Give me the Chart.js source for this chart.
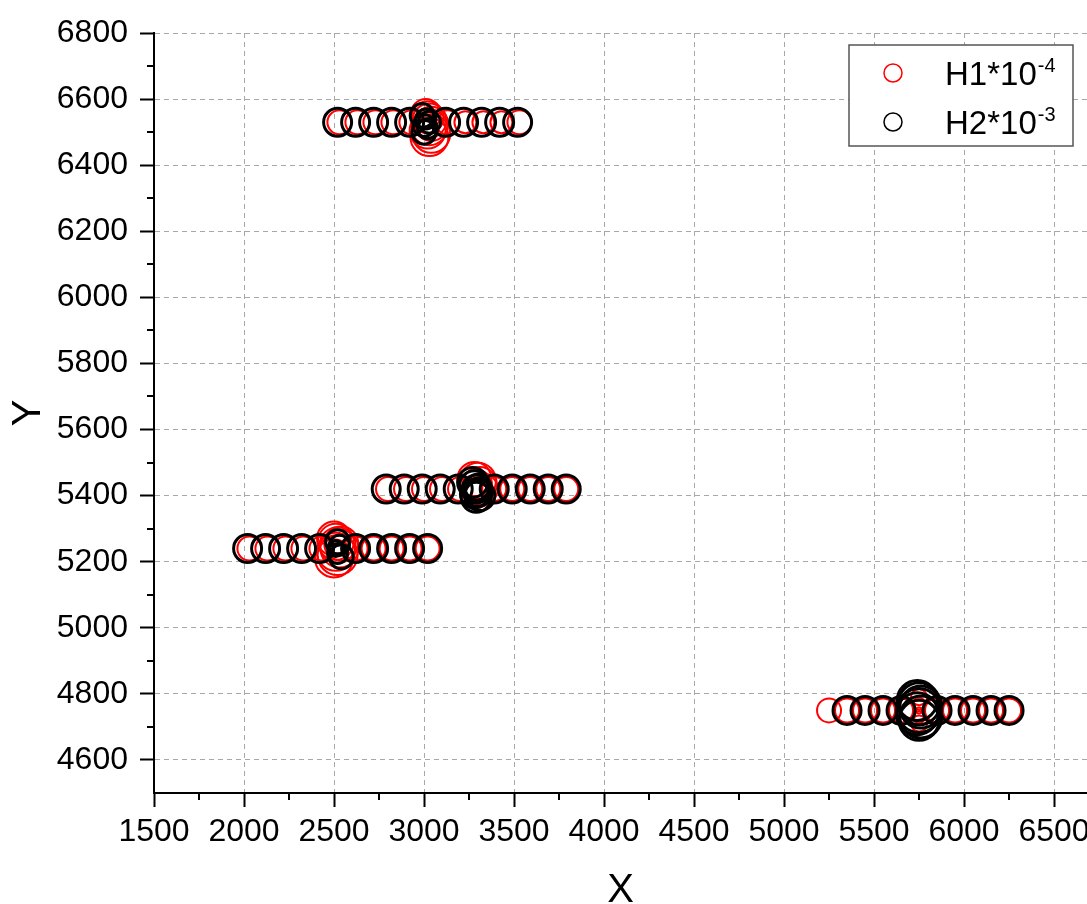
<!DOCTYPE html>
<html>
<head>
<meta charset="utf-8">
<script src="https://cdn.jsdelivr.net/npm/chart.js@4.4.0/dist/chart.umd.min.js"></script>
<style>
  html, body { margin: 0; padding: 0; background: #fff; overflow: hidden; }
  #wrap { width: 1087px; height: 904px; }
</style>
</head>
<body>
<div id="wrap"><canvas id="c" width="1087" height="904"></canvas></div>
<script>
/* H1*10^-4 (red) — x, y and magnitude (drawn as circle radius) */
const h1X = [
  2530, 2630, 2730, 2830, 2930, 3130, 3230, 3330, 3430, 3530,
  3010, 3020, 3030, 3040, 3030, 3020, 3040, 3030,
  2800, 2900, 3000, 3100, 3200, 3390, 3490, 3590, 3690, 3790,
  3280, 3300, 3310, 3290, 3320, 3300,
  2030, 2130, 2230, 2330, 2430, 2620, 2720, 2820, 2920, 3020,
  2500, 2510, 2520, 2530, 2510, 2520, 2500, 2540,
  5250, 5350, 5450, 5550, 5650, 5850, 5950, 6050, 6150, 6250,
  5750, 5750, 5750, 5750, 5750
];
const h1Y = [
  6530, 6530, 6530, 6530, 6530, 6530, 6530, 6530, 6530, 6530,
  6555, 6545, 6535, 6525, 6515, 6505, 6495, 6485,
  5420, 5420, 5420, 5420, 5420, 5420, 5420, 5420, 5420, 5420,
  5450, 5445, 5435, 5430, 5420, 5410,
  5240, 5240, 5240, 5240, 5240, 5240, 5240, 5240, 5240, 5240,
  5270, 5260, 5250, 5240, 5230, 5220, 5210, 5255,
  4750, 4750, 4750, 4750, 4750, 4750, 4750, 4750, 4750, 4750,
  4790, 4770, 4750, 4730, 4710
];
const h1Mag = [
  12, 12, 12, 12, 12, 12, 11, 11, 11, 12,
  15, 16, 17, 17, 18, 18, 19, 19,
  12, 12, 12, 12, 12, 12, 12, 12, 12, 12,
  17, 18, 17, 16, 16, 15,
  12, 12, 12, 12, 12, 12, 12, 12, 12, 12,
  17, 18, 18, 19, 19, 20, 19, 17,
  12, 12, 12, 12, 12, 12, 12, 12, 12, 12,
  8, 6, 3, 6, 8
];

/* H2*10^-3 (black) */
const h2X = [
  2520, 2620, 2720, 2820, 2920, 3120, 3220, 3320, 3420, 3520,
  2990, 3000, 3010, 3020, 3030, 3000,
  2790, 2890, 2990, 3090, 3190, 3390, 3490, 3590, 3690, 3790,
  3270, 3280, 3290, 3300, 3310, 3290, 3280, 3300,
  2020, 2120, 2220, 2320, 2420, 2620, 2720, 2820, 2920, 3020,
  2520, 2530, 2510, 2520, 2540,
  5350, 5450, 5550, 5650, 5850, 5950, 6050, 6150, 6250,
  5740, 5750, 5760, 5750, 5740, 5760, 5750
];
const h2Y = [
  6530, 6530, 6530, 6530, 6530, 6530, 6530, 6530, 6530, 6530,
  6550, 6520, 6540, 6510, 6530, 6500,
  5420, 5420, 5420, 5420, 5420, 5420, 5420, 5420, 5420, 5420,
  5440, 5430, 5420, 5410, 5400, 5395, 5405, 5425,
  5240, 5240, 5240, 5240, 5240, 5240, 5240, 5240, 5240, 5240,
  5260, 5250, 5240, 5225, 5215,
  4750, 4750, 4750, 4750, 4750, 4750, 4750, 4750, 4750,
  4780, 4770, 4760, 4750, 4740, 4730, 4720
];
const h2Mag = [
  14, 14, 14, 14, 14, 14, 14, 14, 14, 14,
  12, 11, 10, 10, 11, 12,
  14, 14, 14, 14, 14, 14, 14, 14, 14, 14,
  15, 15, 14, 14, 15, 15, 14, 13,
  14, 14, 14, 14, 14, 14, 14, 14, 14, 14,
  12, 10, 8, 10, 12,
  14, 14, 14, 14, 14, 14, 14, 14, 14,
  20, 21, 21, 22, 21, 21, 20
];

const xTicks = [1500, 2000, 2500, 3000, 3500, 4000, 4500, 5000, 5500, 6000, 6500];
const xMinor = [1750, 2250, 2750, 3250, 3750, 4250, 4750, 5250, 5750, 6250];
const yTicks = [4600, 4800, 5000, 5200, 5400, 5600, 5800, 6000, 6200, 6400, 6600, 6800];
const yMinor = [4700, 4900, 5100, 5300, 5500, 5700, 5900, 6100, 6300, 6500, 6700];

const seriesNames = ['H1*10', 'H2*10'];
const seriesExp = ['-4', '-3'];
const seriesColors = ['#ff0000', '#000000'];

const FONT = "'Liberation Sans', Arial, sans-serif";

function pts(xs, ys, ms) {
  return xs.map((x, i) => ({ x, y: ys[i], r: ms[i] }));
}

// short minor ticks on both axes
const minorTicks = {
  id: 'minorTicks',
  afterDraw(chart) {
    const { ctx, scales: { x, y }, chartArea } = chart;
    ctx.save();
    ctx.strokeStyle = '#000';
    ctx.lineWidth = 2;
    ctx.beginPath();
    xMinor.forEach(v => {
      const px = Math.round(x.getPixelForValue(v));
      if (px > chartArea.right) return;
      ctx.moveTo(px, chartArea.bottom);
      ctx.lineTo(px, chartArea.bottom + 7);
    });
    yMinor.forEach(v => {
      const py = Math.round(y.getPixelForValue(v));
      ctx.moveTo(chartArea.left, py);
      ctx.lineTo(chartArea.left - 7, py);
    });
    ctx.stroke();
    ctx.restore();
  }
};

// boxed legend with superscript exponents
const boxLegend = {
  id: 'boxLegend',
  afterDatasetsDraw(chart) {
    const ctx = chart.ctx;
    const bx = 849, by = 45, bw = 224, bh = 101;
    ctx.save();
    ctx.fillStyle = '#fff';
    ctx.fillRect(bx, by, bw, bh);
    ctx.strokeStyle = '#555';
    ctx.lineWidth = 1.5;
    ctx.strokeRect(bx, by, bw, bh);
    seriesNames.forEach((name, i) => {
      const cy = 73 + i * 49;
      ctx.beginPath();
      ctx.arc(893, cy, 9, 0, Math.PI * 2);
      ctx.strokeStyle = seriesColors[i];
      ctx.lineWidth = 1.5;
      ctx.stroke();
      ctx.fillStyle = '#000';
      ctx.textBaseline = 'alphabetic';
      ctx.textAlign = 'left';
      ctx.font = '33px ' + FONT;
      ctx.fillText(name, 945, cy + 12);
      const w = ctx.measureText(name).width;
      ctx.font = '20px ' + FONT;
      ctx.fillText(seriesExp[i], 945 + w + 1, cy - 1);
    });
    ctx.restore();
  }
};

const canvas = document.getElementById('c');
new Chart(canvas.getContext('2d'), {
  type: 'bubble',
  data: {
    datasets: [
      {
        label: 'H1*10^-4',
        data: pts(h1X, h1Y, h1Mag),
        backgroundColor: 'rgba(0,0,0,0)',
        borderColor: seriesColors[0],
        borderWidth: 2,
        order: 2
      },
      {
        label: 'H2*10^-3',
        data: pts(h2X, h2Y, h2Mag),
        backgroundColor: 'rgba(0,0,0,0)',
        borderColor: seriesColors[1],
        borderWidth: 3,
        order: 1
      }
    ]
  },
  options: {
    responsive: false,
    animation: false,
    layout: { autoPadding: false, padding: { top: 33, right: 0, bottom: 0, left: 0 } },
    plugins: {
      legend: { display: false },
      tooltip: { enabled: false }
    },
    scales: {
      x: {
        type: 'linear',
        min: 1500,
        max: 6683,
        afterFit: s => { s.height = 111; s.paddingLeft = 0; s.paddingRight = 0; },
        afterBuildTicks: s => { s.ticks = xTicks.map(v => ({ value: v })); },
        ticks: {
          color: '#000',
          font: { size: 32, family: FONT },
          padding: 6,
          maxRotation: 0,
          autoSkip: false,
          callback: v => String(v)
        },
        grid: {
          color: '#a8a8a8',
          lineWidth: 1,
          tickColor: '#000',
          tickWidth: 2,
          tickLength: 14
        },
        border: { color: '#000', width: 2, dash: [5, 4] },
        title: {
          display: true,
          text: 'X',
          color: '#000',
          font: { size: 40, family: FONT, lineHeight: 1 },
          padding: { top: 0, bottom: -7 }
        }
      },
      y: {
        type: 'linear',
        min: 4500,
        max: 6800,
        afterFit: s => { s.width = 154; s.paddingTop = 0; s.paddingBottom = 0; },
        afterBuildTicks: s => { s.ticks = yTicks.map(v => ({ value: v })); },
        ticks: {
          color: '#000',
          font: { size: 32, family: FONT },
          padding: 12,
          callback: v => String(v)
        },
        grid: {
          color: '#a8a8a8',
          lineWidth: 1,
          tickColor: '#000',
          tickWidth: 2,
          tickLength: 14
        },
        border: { color: '#000', width: 2, dash: [5, 4] },
        title: {
          display: true,
          text: 'Y',
          color: '#000',
          font: { size: 40, family: FONT, lineHeight: 1 },
          padding: { top: 9, bottom: 0 }
        }
      }
    }
  },
  plugins: [minorTicks, boxLegend]
});
</script>
</body>
</html>
